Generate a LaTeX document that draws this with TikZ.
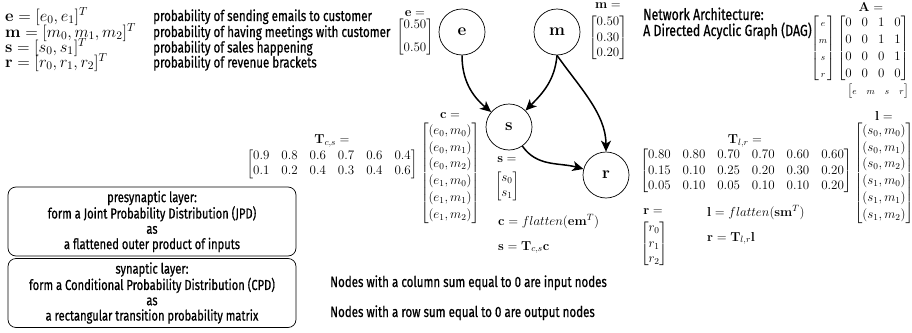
\RequirePackage{fix-cm}
\documentclass[tikz,border=0pt]{standalone}
\usepackage{amsmath}
\usepackage[no-math]{fontspec}
\setmainfont[FakeStretch=0.77,FakeBold=0.6]{Fira Sans}
\usetikzlibrary{arrows.meta}
\begin{document}
\begin{tikzpicture}[x=1pt,y=-1pt,
  dagnode/.style={circle,draw,line width=0.7pt,minimum size=46pt,inner sep=0pt,font=\fontsize{17}{20}\selectfont},
  edge/.style={line width=1.5pt,-{Stealth[length=11pt,width=10pt,inset=3pt]}},
  bigmath/.style={inner sep=0pt,font=\fontsize{16.5}{19}\selectfont,anchor=base west},
  desc/.style={inner sep=0pt,font=\fontsize{15}{16}\selectfont,anchor=base west},
  note/.style={inner sep=0pt,font=\fontsize{15}{17}\selectfont,anchor=base west},
  arch/.style={inner sep=0pt,font=\fontsize{16}{18}\selectfont,anchor=base west},
  eqn/.style={inner sep=0pt,font=\fontsize{13}{15.6}\selectfont,anchor=base west},
  lab/.style={inner sep=0pt,font=\fontsize{13}{15.6}\selectfont},
  mat/.style={inner sep=0pt,font=\fontsize{13}{15.6}\selectfont},
  layerbox/.style={draw,line width=0.7pt,rounded corners=8pt,minimum width=288pt,minimum height=69pt,align=center,inner sep=0pt,font=\fontsize{14.5}{15.3}\selectfont},
]
\useasboundingbox (0,0) rectangle (912,332);

% DAG nodes
\node[dagnode] (e) at (462,32) {$\mathbf{e}$};
\node[dagnode] (m) at (557,32) {$\mathbf{m}$};
\node[dagnode] (s) at (509,127) {$\mathbf{s}$};
\node[dagnode] (r) at (606,175) {$\mathbf{r}$};

\draw[edge] (e.south) to[out=-90,in=140] (s);
\draw[edge] (m.south) to[out=-95,in=45] (s);
\draw[edge] (m.south) to[out=-55,in=90,looseness=0.9] (r);
\draw[edge] (s) to[out=-55,in=165] (r);

% top-left definitions
\node[bigmath] (le) at (5,21) {$\mathbf{e} = [e_0, e_1]^T$};
\node[desc] (de) at (153,21) {probability of sending emails to customer};
\node[bigmath] (lm) at (5,37) {$\mathbf{m} = [m_0, m_1, m_2]^T$};
\node[desc] (dm) at (153,37) {probability of having meetings with customer};
\node[bigmath] (ls) at (5,52.5) {$\mathbf{s} = [s_0, s_1]^T$};
\node[desc] (ds) at (153,52.5) {probability of sales happening};
\node[bigmath] (lr) at (5,67.5) {$\mathbf{r} = [r_0, r_1, r_2]^T$};
\node[desc] (dr) at (153,67.5) {probability of revenue brackets};

% vectors near nodes
\node[lab] (elab) at (415,14) {$\mathbf{e} =$};
\node[mat] (evec) at (415,37) {$\begin{bmatrix}0.50\\[7pt]0.50\end{bmatrix}$};
\node[lab] (mlab) at (608,6) {$\mathbf{m} =$};
\node[mat] (mvec) at (608,38) {$\begin{bmatrix}0.50\\0.30\\0.20\end{bmatrix}$};

\node[lab] (clab) at (450,116) {$\mathbf{c} =$};
\node[mat] (cvec) at (450,173) {$\renewcommand{\arraystretch}{1.07}\begin{bmatrix}(e_0,m_0)\\(e_0,m_1)\\(e_0,m_2)\\(e_1,m_0)\\(e_1,m_1)\\(e_1,m_2)\end{bmatrix}$};

\node[lab] (tcslab) at (332,141) {$\mathbf{T}_{c,s} =$};
\node[mat] (tcs) at (332,164) {$\setlength{\arraycolsep}{6pt}\begin{bmatrix}0.9&0.8&0.6&0.7&0.6&0.4\\0.1&0.2&0.4&0.3&0.4&0.6\end{bmatrix}$};

\node[lab] (slab) at (507,160) {$\mathbf{s} =$};
\node[mat] (svec) at (507,186) {$\begin{bmatrix}s_0\\s_1\end{bmatrix}$};

\node[eqn] (eqc) at (498,225) {$\mathbf{c} = flatten(\mathbf{e}\mathbf{m}^T)$};
\node[eqn] (eqs) at (498,250) {$\mathbf{s} = \mathbf{T}_{c,s}\mathbf{c}$};

\node[lab] (tlrlab) at (745,141) {$\mathbf{T}_{l,r} =$};
\node[mat] (tlr) at (746,171) {$\setlength{\arraycolsep}{6pt}\begin{bmatrix}0.80&0.80&0.70&0.70&0.60&0.60\\0.15&0.10&0.25&0.20&0.30&0.20\\0.05&0.10&0.05&0.10&0.10&0.20\end{bmatrix}$};

\node[lab] (llab) at (884,116) {$\mathbf{l} =$};
\node[mat] (lvec) at (884,173) {$\renewcommand{\arraystretch}{1.07}\begin{bmatrix}(s_0,m_0)\\(s_0,m_1)\\(s_0,m_2)\\(s_1,m_0)\\(s_1,m_1)\\(s_1,m_2)\end{bmatrix}$};

\node[lab] (rlab) at (653,212) {$\mathbf{r} =$};
\node[mat] (rvec) at (654,244) {$\begin{bmatrix}r_0\\r_1\\r_2\end{bmatrix}$};

\node[eqn] (eql) at (707,216) {$\mathbf{l} = flatten(\mathbf{s}\mathbf{m}^T)$};
\node[eqn] (eqr) at (707,241) {$\mathbf{r} = \mathbf{T}_{l,r}\mathbf{l}$};

% network architecture
\node[arch] (na1) at (643,20) {Network Architecture:};
\node[arch] (na2) at (643,36) {A Directed Acyclic Graph (DAG)};
\node[lab] (alab) at (871,7) {$\mathbf{A} =$};
\node[mat,anchor=east] (amat) at (909,48.5) {$\renewcommand{\arraystretch}{1.09}\begin{bmatrix}\scriptstyle e\\ \scriptstyle m\\ \scriptstyle s\\ \scriptstyle r\end{bmatrix}\begin{bmatrix}0&0&1&0\\0&0&1&1\\0&0&0&1\\0&0&0&0\end{bmatrix}$};
\node[mat,anchor=east] (arow) at (909,91.5) {$\begin{bmatrix}\scriptstyle e&\scriptstyle m&\scriptstyle s&\scriptstyle r\end{bmatrix}$};

% notes
\node[note] (n1) at (330,287) {Nodes with a column sum equal to 0 are input nodes};
\node[note] (n2) at (330,317) {Nodes with a row sum equal to 0 are output nodes};

% layer boxes
\node[layerbox] (pre) at (152,221.5) {presynaptic layer:\\form a Joint Probability Distribution (JPD)\\as\\a flattened outer product of inputs};
\node[layerbox] (syn) at (152,293) {synaptic layer:\\form a Conditional Probability Distribution (CPD)\\as\\a rectangular transition probability matrix};
\end{tikzpicture}
\end{document}
